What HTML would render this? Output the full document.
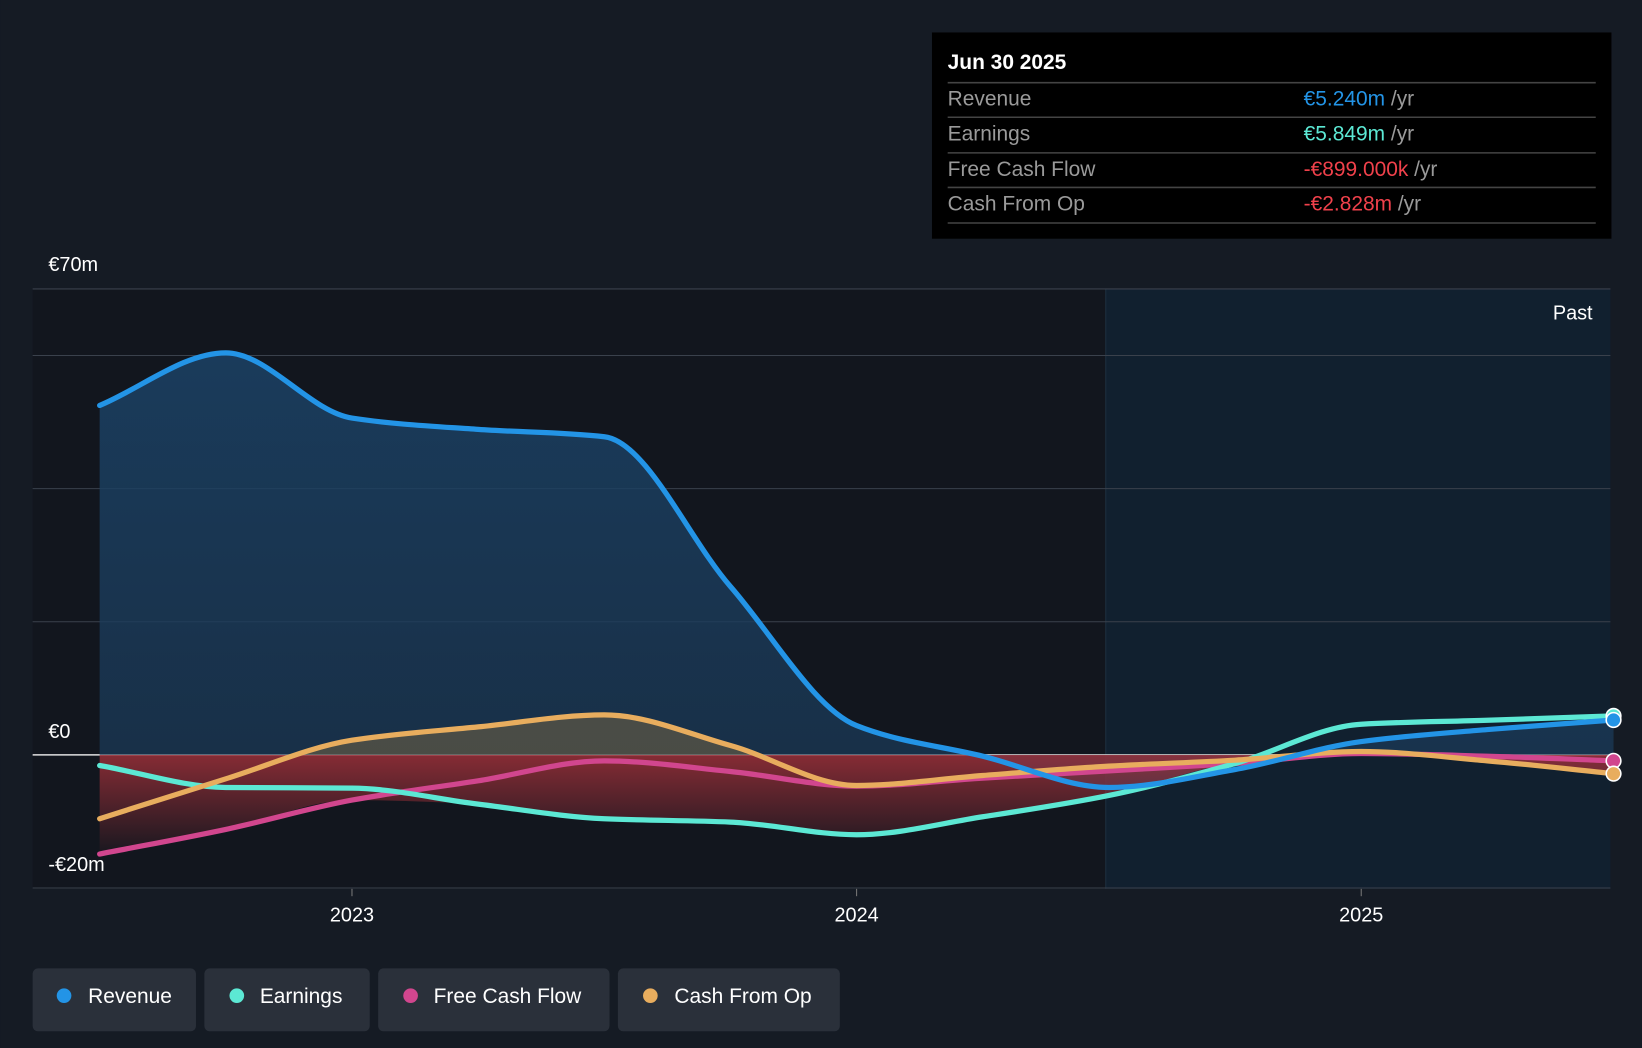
<!DOCTYPE html>
<html><head><meta charset="utf-8"><style>
html,body{margin:0;padding:0;background:#151b24;}
svg{display:block;font-family:"Liberation Sans",sans-serif;}
</style></head><body>
<svg id="chart" width="1642" height="1048" viewBox="0 0 1568 1001" xmlns="http://www.w3.org/2000/svg">
<defs>
<linearGradient id="revFill" x1="0" y1="0" x2="0" y2="1"><stop offset="0" stop-color="#1b4266" stop-opacity="0.85"/><stop offset="1" stop-color="#1b3a58" stop-opacity="0.7"/></linearGradient>
<linearGradient id="negFill" x1="0" y1="0" x2="0" y2="1"><stop offset="0" stop-color="#a3313a" stop-opacity="0.8"/><stop offset="1" stop-color="#a3313a" stop-opacity="0.05"/></linearGradient>
</defs>
<rect x="0" y="0" width="1568" height="1001" fill="#151b24"/>
<rect x="31" y="276" width="1025" height="573" fill="#12161e"/>
<rect x="1056" y="276" width="482" height="573" fill="#11202f"/>
<line x1="1056" y1="276" x2="1056" y2="849" stroke="#1e3040" stroke-width="1"/>
<g id="grid"></g>
<g id="areas"></g>
<g id="lines"></g>
<text x="1521" y="305" fill="#fff" font-size="19" text-anchor="end">Past</text>
<g id="ylabels"></g>
<g id="xlabels"></g>

<g>
<rect x="890" y="31" width="649" height="197" fill="#000"/>
<text x="905" y="66" fill="#fff" font-size="20" font-weight="bold">Jun 30 2025</text>
<line x1="905" y1="79" x2="1524" y2="79" stroke="#444" stroke-width="1.5"/>
<text x="905" y="101" fill="#9a9a9a" font-size="20">Revenue</text>
<text x="1245" y="101" font-size="20"><tspan fill="#2394e6">€5.240m</tspan><tspan fill="#9a9a9a"> /yr</tspan></text>
<line x1="905" y1="112" x2="1524" y2="112" stroke="#444" stroke-width="1.5"/>
<text x="905" y="134" fill="#9a9a9a" font-size="20">Earnings</text>
<text x="1245" y="134" font-size="20"><tspan fill="#5ce8d4">€5.849m</tspan><tspan fill="#9a9a9a"> /yr</tspan></text>
<line x1="905" y1="146" x2="1524" y2="146" stroke="#444" stroke-width="1.5"/>
<text x="905" y="168" fill="#9a9a9a" font-size="20">Free Cash Flow</text>
<text x="1245" y="168" font-size="20"><tspan fill="#f0414b">-€899.000k</tspan><tspan fill="#9a9a9a"> /yr</tspan></text>
<line x1="905" y1="179" x2="1524" y2="179" stroke="#444" stroke-width="1.5"/>
<text x="905" y="201" fill="#9a9a9a" font-size="20">Cash From Op</text>
<text x="1245" y="201" font-size="20"><tspan fill="#f0414b">-€2.828m</tspan><tspan fill="#9a9a9a"> /yr</tspan></text>
<line x1="905" y1="213" x2="1524" y2="213" stroke="#444" stroke-width="1.5"/>
</g>

<g>
<g><rect x="31" y="925" width="156" height="60" rx="5" fill="#2a303a"/><circle cx="61" cy="951" r="7" fill="#2394e6"/><text x="84" y="958" fill="#fff" font-size="20">Revenue</text></g>
<g><rect x="195" y="925" width="158" height="60" rx="5" fill="#2a303a"/><circle cx="226" cy="951" r="7" fill="#5ce8d4"/><text x="248" y="958" fill="#fff" font-size="20">Earnings</text></g>
<g><rect x="361" y="925" width="221" height="60" rx="5" fill="#2a303a"/><circle cx="392" cy="951" r="7" fill="#d1468e"/><text x="414" y="958" fill="#fff" font-size="20">Free Cash Flow</text></g>
<g><rect x="590" y="925" width="212" height="60" rx="5" fill="#2a303a"/><circle cx="621" cy="951" r="7" fill="#e8ad5e"/><text x="644" y="958" fill="#fff" font-size="20">Cash From Op</text></g>
</g>
</svg>
<script>
const dates = [2022.5,2022.75,2023,2023.25,2023.5,2023.75,2024,2024.25,2024.5,2024.75,2025,2025.25,2025.5];
const revenue = [52.5,60.4,50.6,48.9,47.8,25.3,4.4,-0.2,-4.9,-2.2,2.0,3.8,5.24];
const earnings = [-1.6,-4.9,-5.0,-7.4,-9.6,-10.1,-12.0,-9.3,-6.1,-1.3,4.6,5.2,5.849];
const fcf = [-14.9,-11.2,-6.8,-3.9,-0.9,-2.5,-4.7,-3.5,-2.4,-1.3,0.2,-0.2,-0.899];
const cfo = [-9.6,-3.6,2.2,4.2,6.0,1.4,-4.6,-3.1,-1.7,-0.8,0.5,-0.9,-2.828];
const yTicks = [70,60,40,20,0,-20];
const yLabelVals = [70,0,-20];
const yLabelText = ["€70m","€0","-€20m"];
const xTicks = [2023,2024,2025];

const NS="http://www.w3.org/2000/svg";
const X = d => 336 + (d-2023)*482;
const Y = v => 721 - v*(445/70);
function mk(tag, attrs, parent){const e=document.createElementNS(NS,tag);for(const k in attrs)e.setAttribute(k,attrs[k]);document.getElementById(parent).appendChild(e);return e;}
function pathD(vals){
  const n=vals.length;
  const xs=dates.map(X), ys=vals.map(Y);
  const dx=[],s=[];
  for(let i=0;i<n-1;i++){dx.push(xs[i+1]-xs[i]);s.push((ys[i+1]-ys[i])/dx[i]);}
  const m=new Array(n);
  m[0]=s[0];m[n-1]=s[n-2];
  for(let i=1;i<n-1;i++){
    if(s[i-1]*s[i]<=0)m[i]=0;
    else m[i]=3*(dx[i-1]+dx[i])/((2*dx[i]+dx[i-1])/s[i-1]+(dx[i]+2*dx[i-1])/s[i]);
  }
  let d=`M${xs[0]},${ys[0]}`;
  for(let i=0;i<n-1;i++){
    const h=dx[i]/3;
    d+=` C${xs[i]+h},${ys[i]+m[i]*h} ${xs[i+1]-h},${ys[i+1]-m[i+1]*h} ${xs[i+1]},${ys[i+1]}`;
  }
  return d;
}
yTicks.forEach(v=>{
  const g=mk('line',{x1:31,x2:1538,y1:Y(v),y2:Y(v),stroke:v===0?'#e0e0e0':'#3a414c','stroke-width':v===0?1.5:1},'grid');
  
  
});
yLabelVals.forEach((v,i)=>{
  const t=mk('text',{x:46,y:Y(v)-16,fill:'#fff','font-size':19},'ylabels');
  if(v===70) t.setAttribute('y',Y(v)-17);
  t.textContent=yLabelText[i];
  
  
});
xTicks.forEach(d=>{
  mk('line',{x1:X(d),x2:X(d),y1:849,y2:856,stroke:'#777'},'xlabels');
  const t=mk('text',{x:X(d),y:880,fill:'#fff','font-size':19,'text-anchor':'middle'},'xlabels');
  t.textContent=String(d);
  
  
});
const x0=X(dates[0]), x1=X(dates[dates.length-1]), z=Y(0);
function area(vals,fill,name){
  const a=mk('path',{d:pathD(vals)+` L${x1},${z} L${x0},${z} Z`,fill:fill},'areas');
  
  
}
area(revenue,'url(#revFill)','revenue-area');
const clipPos=mk('clipPath',{id:'pos'},'areas');const cr=document.createElementNS(NS,'rect');cr.setAttribute('x',0);cr.setAttribute('y',0);cr.setAttribute('width',1568);cr.setAttribute('height',z);clipPos.appendChild(cr);
const clipNeg=mk('clipPath',{id:'neg'},'areas');const cn=document.createElementNS(NS,'rect');cn.setAttribute('x',0);cn.setAttribute('y',z);cn.setAttribute('width',1568);cn.setAttribute('height',200);clipNeg.appendChild(cn);
const cfoPos=mk('path',{d:pathD(cfo)+` L${x1},${z} L${x0},${z} Z`,fill:'#6a5f45','fill-opacity':0.6,'clip-path':'url(#pos)'},'areas');


const minNeg=dates.map((d,i)=>Math.min(fcf[i],earnings[i],cfo[i],0));
const negA=mk('path',{d:pathD(minNeg)+` L${x1},${z} L${x0},${z} Z`,fill:'url(#negFill)','clip-path':'url(#neg)'},'areas');


function line(vals,color,name){
  const l=mk('path',{d:pathD(vals),fill:'none',stroke:color,'stroke-width':5,'stroke-linecap':'round'},'lines');
  
  
  const c=mk('circle',{cx:x1,cy:Y(vals[vals.length-1]),r:7,fill:color,stroke:'#fff','stroke-width':1.5},'lines');
  
  
}
line(fcf,'#d1468e','free-cash-flow-line');
line(earnings,'#5ce8d4','earnings-line');
line(cfo,'#e8ad5e','cash-from-op-line');
line(revenue,'#2394e6','revenue-line');
</script>
</body></html>
